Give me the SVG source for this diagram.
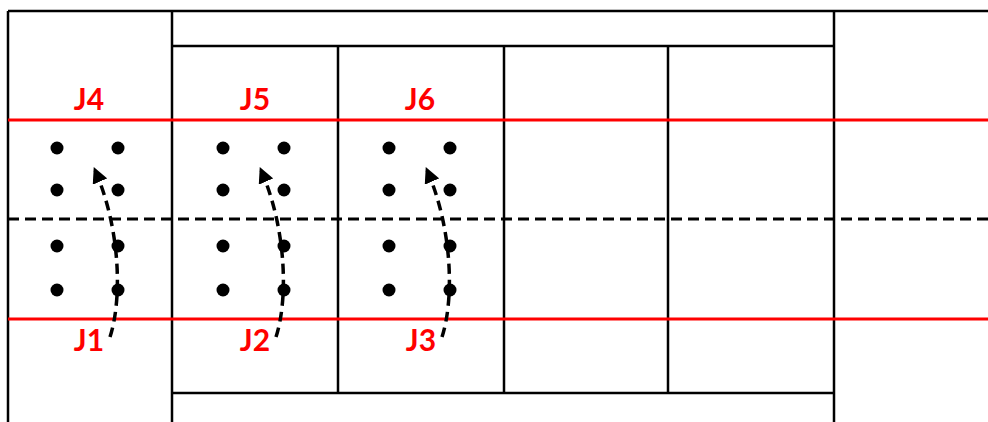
<svg xmlns="http://www.w3.org/2000/svg" width="988" height="422" viewBox="0 0 988 422">
<defs>
<style>
.bk{stroke:#000;stroke-width:2.5;fill:none}
.rd{stroke:#ff0000;stroke-width:3;fill:none}
.ds{stroke:#000;stroke-width:2.8;stroke-dasharray:11,6;fill:none}
.arr{stroke:#000;stroke-width:3.5;stroke-dasharray:10,6;fill:none}
.lb{font-family:Lato,"Liberation Sans",sans-serif;font-weight:bold;font-size:30px;fill:#ff0000;text-anchor:middle}
.dot{fill:#000}
</style>
<marker id="ah" viewBox="0 0 10 10" refX="8" refY="5" markerWidth="4.5" markerHeight="4.5" orient="auto" markerUnits="strokeWidth">
<path d="M0,0 L10,5 L0,10 z" fill="#000"/>
</marker>
<g id="pins">
<circle cx="0" cy="0" r="6.5"/><circle cx="61" cy="0" r="6.5"/>
<circle cx="0" cy="42" r="6.5"/><circle cx="61" cy="42" r="6.5"/>
<circle cx="0" cy="98" r="6.5"/><circle cx="61" cy="98" r="6.5"/>
<circle cx="0" cy="142" r="6.5"/><circle cx="61" cy="142" r="6.5"/>
</g>
</defs>
<rect width="988" height="422" fill="#fff"/>
<g id="frame">
<path class="bk" d="M8,11 H988 M8,11 V422 M172,11 V422 M834,11 V422 M172,46 H834 M338,46 V393 M504,46 V393 M668,46 V393 M172,393 H834"/>
</g>
<g id="lines">
<path class="rd" d="M8,120 H988 M8,319 H988"/>
<path class="ds" d="M8,219 H988"/>
</g>
<g id="node-J1"><use href="#pins" x="57" y="148" class="dot"/><text class="lb" x="89" y="351">J1</text></g>
<g id="node-J2"><use href="#pins" x="223" y="148" class="dot"/><text class="lb" x="255" y="351">J2</text></g>
<g id="node-J3"><use href="#pins" x="389" y="148" class="dot"/><text class="lb" x="421" y="351">J3</text></g>
<g id="node-J4"><text class="lb" x="89" y="110">J4</text></g>
<g id="node-J5"><text class="lb" x="255" y="110">J5</text></g>
<g id="node-J6"><text class="lb" x="420" y="110">J6</text></g>
<g id="connectors">
<path class="arr" marker-end="url(#ah)" d="M110,337 C122,300 121,230 95,170"/>
<path class="arr" marker-end="url(#ah)" d="M276,337 C288,300 287,230 261,170"/>
<path class="arr" marker-end="url(#ah)" d="M442,337 C454,300 453,230 427,170"/>
</g>
</svg>
